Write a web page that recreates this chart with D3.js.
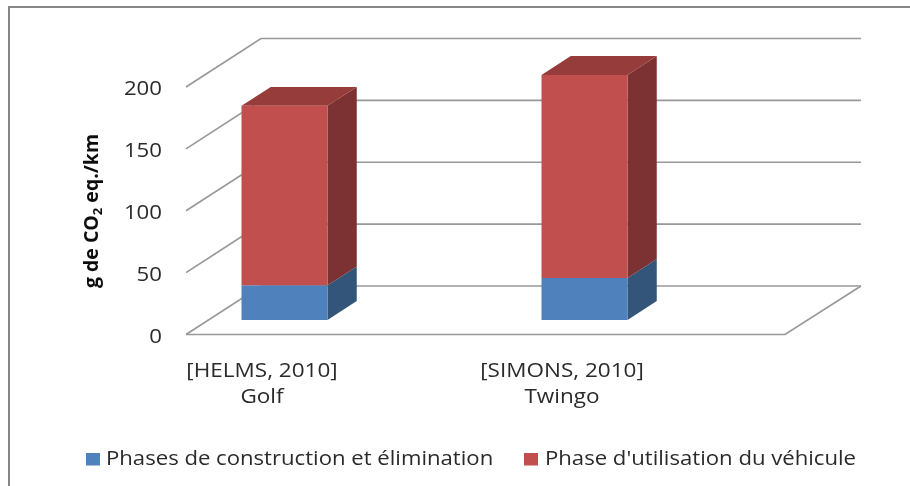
<!DOCTYPE html>
<html>
<head>
<meta charset="utf-8">
<script src="https://cdn.jsdelivr.net/npm/d3@7"></script>
<style>
    html, body { margin: 0; padding: 0; background: #fff; }
    svg { display: block; }
    text { font-family: "Open Sans", sans-serif; fill: #2b2b2b; }
</style>
</head>
<body>
<svg id="chart"></svg>
<script>
var categories = ["[HELMS, 2010]", "[SIMONS, 2010]"];
var vehicles = ["Golf", "Twingo"];
var construction = [28, 34];
var utilisation = [145, 164];
var yTicks = [0, 50, 100, 150, 200];
var seriesNames = ["Phases de construction et élimination", "Phase d'utilisation du véhicule"];

var width = 910;
var height = 486;
var left = 186;       // front left corner of the floor
var floorWidth = 599;
var base = 334.5;     // front edge of the floor
var depthX = 75;      // full 3d depth offset
var depthY = 48.5;
var barFront = 0.3;   // bar position inside the depth, 0..1
var barBack = 0.69;

var colors = {
    blue: {front: "#4f81bd", side: "#335479"},
    red: {front: "#c0504d", side: "#7b3230", top: "#963c3a"}
};

var svg = d3.select("#chart").attr("width", width).attr("height", height);

var defs = svg.append("defs");
defs.append("filter").attr("id", "soft")
    .append("feGaussianBlur").attr("stdDeviation", 0.45);

var canvas = svg.append("g").attr("filter", "url(#soft)");

// the source picture has its text stretched sideways
var stretch = function(sel, k) {
    sel.each(function() {
        d3.select(this)
            .attr("textLength", this.getComputedTextLength() * k)
            .attr("lengthAdjust", "spacingAndGlyphs");
    });
};

// chart frame, runs off the right and bottom of the picture
canvas.append("path")
    .attr("d", "M9," + height + "V7H" + width)
    .attr("fill", "none")
    .attr("stroke", "#868686")
    .attr("stroke-width", 2);

var y = d3.scaleLinear().domain([0, 200]).range([base, base - 247.5]);

// band centres sit 74px left of the floor thirds, same as the category labels
var x = d3.scaleBand()
    .domain(categories)
    .range([left - 74, left - 74 + 600])
    .paddingInner(1 - 86 / 300)
    .paddingOuter((1 - 86 / 300) / 2);

var project = function(px, value, depth) {
    return [px + depth * depthX, y(value) - depth * depthY];
};

// walls and floor
var grid = canvas.append("g")
    .attr("fill", "none")
    .attr("stroke", "#999")
    .attr("stroke-width", 1.7);

yTicks.forEach(function(t) {
    var line = [
        project(left, t, 0),
        project(left, t, 1),
        project(left + floorWidth + 1, t, 1)
    ];
    grid.append("path").attr("d", d3.line()(line));
});
grid.append("path").attr("d", d3.line()([
    project(left, 0, 0),
    project(left + floorWidth, 0, 0),
    project(left + floorWidth + 1, 0, 1)
]));

var polygon = function(g, pts, fill) {
    g.append("polygon")
        .attr("points", pts.map(function(p) { return p.join(","); }).join(" "))
        .attr("fill", fill);
};

// one stacked 3d segment
var segment = function(g, cat, v0, v1, color, withTop) {
    var x0 = x(cat);
    var x1 = x0 + x.bandwidth();
    polygon(g, [
        project(x1, v0, barFront), project(x1, v0, barBack),
        project(x1, v1, barBack), project(x1, v1, barFront)
    ], color.side);
    if (withTop) {
        polygon(g, [
            project(x0, v1, barFront), project(x0, v1, barBack),
            project(x1, v1, barBack), project(x1, v1, barFront)
        ], color.top);
    }
    polygon(g, [
        project(x0, v0, barFront), project(x1, v0, barFront),
        project(x1, v1, barFront), project(x0, v1, barFront)
    ], color.front);
};

var bars = canvas.append("g");
categories.forEach(function(cat, i) {
    var g = bars.append("g");
    segment(g, cat, 0, construction[i], colors.blue, false);
    segment(g, cat, construction[i], construction[i] + utilisation[i], colors.red, true);
});

// y axis labels
var yAxis = canvas.append("g")
    .attr("transform", "translate(162,0)")
    .call(d3.axisLeft(y).tickValues(yTicks).tickSize(0).tickPadding(0));
yAxis.select(".domain").remove();
yAxis.selectAll("text")
    .attr("dy", null)
    .attr("y", 7.5)
    .style("font-family", "\"Open Sans\", sans-serif")
    .style("font-size", "20px")
    .call(stretch, 1.11);

// y axis title
var title = canvas.append("text")
    .attr("transform", "translate(98,211) rotate(-90)")
    .attr("text-anchor", "middle")
    .style("font-size", "19.5px")
    .style("font-weight", "700")
    .style("fill", "#111");
title.append("tspan").text("g de CO");
title.append("tspan").attr("dy", 4).style("font-size", "13px").text("2");
title.append("tspan").attr("dy", -4).text(" eq./km");

// category labels
categories.forEach(function(cat, i) {
    var cx = x(cat) + x.bandwidth() / 2;
    canvas.append("text")
        .attr("x", cx).attr("y", 377)
        .attr("text-anchor", "middle")
        .style("font-size", "20px")
        .text(cat)
        .call(stretch, 1.125);
    canvas.append("text")
        .attr("x", cx).attr("y", 403)
        .attr("text-anchor", "middle")
        .style("font-size", "20px")
        .text(vehicles[i])
        .call(stretch, 1.125);
});

// legend
var legendX = [86, 524];
var legendColor = [colors.blue.front, colors.red.front];
seriesNames.forEach(function(name, i) {
    canvas.append("rect")
        .attr("x", legendX[i]).attr("y", 453)
        .attr("width", 14).attr("height", 12.5)
        .attr("fill", legendColor[i]);
    canvas.append("text")
        .attr("x", legendX[i] + 20 + i).attr("y", 465)
        .style("font-size", "20px")
        .text(name)
        .call(stretch, 1.106);
});
</script>
</body>
</html>
